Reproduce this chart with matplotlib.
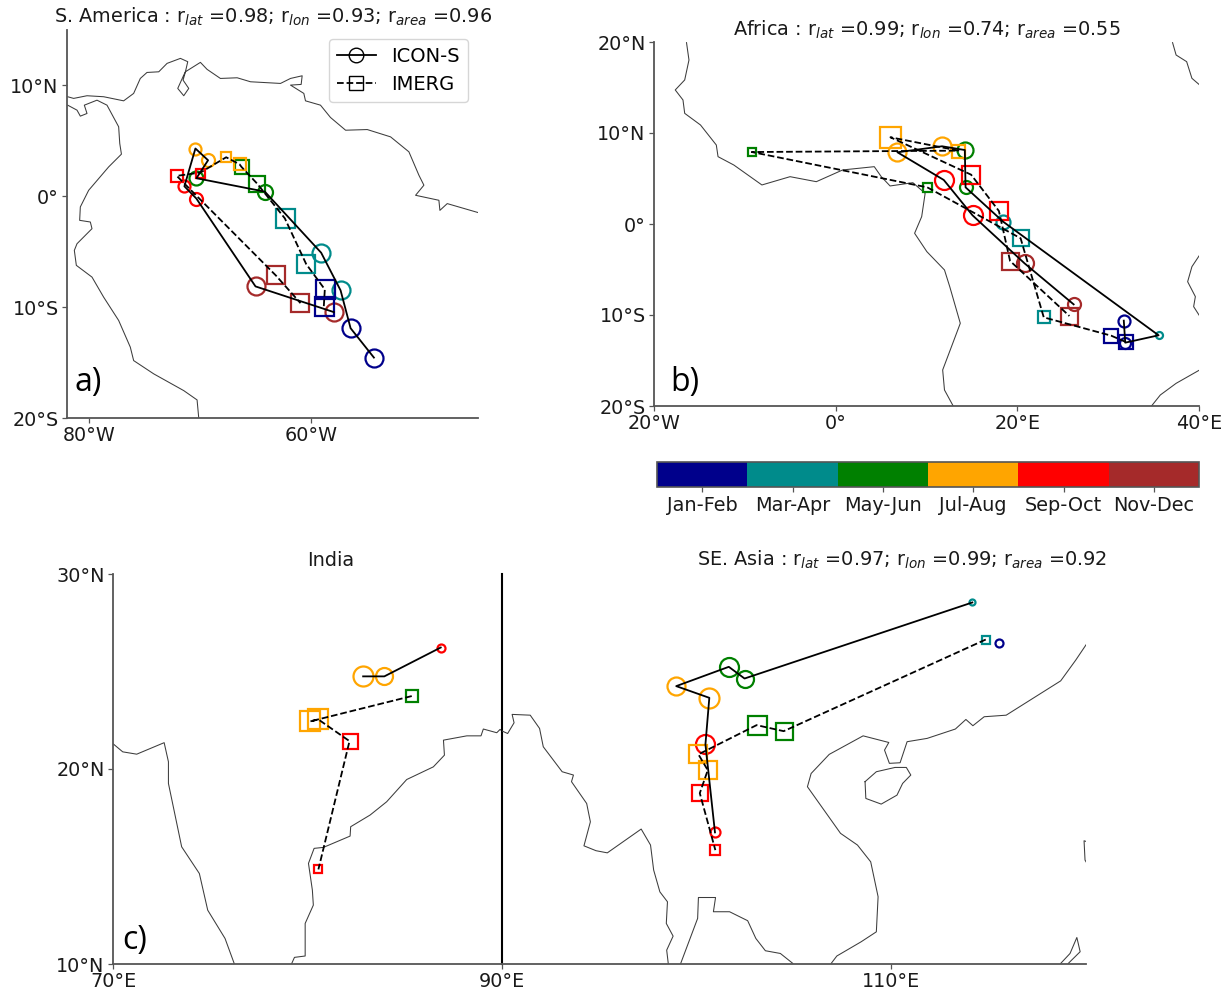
import matplotlib
matplotlib.use('Agg')
import matplotlib.pyplot as plt
from matplotlib.colors import ListedColormap, BoundaryNorm
from matplotlib.cm import ScalarMappable
from matplotlib.lines import Line2D

# Season names and colours, one colour per two-month bin
seasons = ['Jan-Feb', 'Mar-Apr', 'May-Jun', 'Jul-Aug', 'Sep-Oct', 'Nov-Dec']
season_colors = ['darkblue', 'darkcyan', 'green', 'orange', 'red', 'brown']

# S. America: centre lon/lat, season index and marker diameter for each point
sa_icon_lon = [-54.37, -56.47, -57.37, -59.12, -64.19, -70.35, -69.30, -70.44, -71.43, -70.35, -65.03, -57.97]
sa_icon_lat = [-14.55, -11.90, -8.49, -5.09, 0.42, 1.63, 3.25, 4.31, 0.90, -0.21, -8.13, -10.45]
sa_icon_season = [0, 0, 1, 1, 2, 2, 3, 3, 4, 4, 5, 5]
sa_icon_size = [18, 18, 18, 18, 15, 14, 13, 12, 12, 13, 18, 18]
sa_imerg_lon = [-58.88, -58.79, -60.47, -62.39, -64.88, -66.29, -66.47, -67.67, -69.99, -72.12, -63.20, -60.98]
sa_imerg_lat = [-9.91, -8.40, -6.11, -1.99, 1.14, 2.65, 2.89, 3.52, 2.14, 1.84, -7.14, -9.64]
sa_imerg_season = [0, 0, 1, 1, 2, 2, 3, 3, 4, 4, 5, 5]
sa_imerg_size = [19, 19, 18, 19, 16, 14, 12, 10, 9, 12, 18, 18]

# Africa
af_icon_lon = [31.72, 31.88, 35.55, 18.43, 14.30, 14.22, 11.71, 6.80, 11.90, 15.07, 20.79, 26.20]
af_icon_lat = [-10.62, -13.04, -12.23, 0.26, 4.03, 8.13, 8.54, 7.88, 4.84, 0.95, -4.32, -8.83]
af_icon_season = [0, 0, 1, 1, 2, 2, 3, 3, 4, 4, 5, 5]
af_icon_size = [12, 11, 7, 14, 13, 16, 18, 18, 19, 19, 17, 13]
af_imerg_lon = [31.95, 30.33, 22.91, 20.36, 10.08, -9.24, 13.52, 6.03, 14.91, 17.97, 19.20, 25.73]
af_imerg_lat = [-12.97, -12.27, -10.26, -1.57, 4.03, 7.91, 8.06, 9.53, 5.42, 1.43, -4.06, -10.11]
af_imerg_season = [0, 0, 1, 1, 2, 2, 3, 3, 4, 4, 5, 5]
af_imerg_size = [14, 14, 12, 16, 9, 8, 13, 21, 18, 18, 17, 17]

# India
in_icon_lon = [82.86, 83.95, 86.85]
in_icon_lat = [24.75, 24.75, 26.23]
in_icon_season = [3, 3, 4]
in_icon_size = [20, 17, 8]
in_imerg_lon = [85.36, 80.13, 80.56, 82.16, 80.56]
in_imerg_lat = [23.74, 22.44, 22.54, 21.43, 14.85]
in_imerg_season = [2, 3, 3, 4, 4]
in_imerg_size = [12, 20, 20, 15, 8]

# SE Asia, the lone Jan-Feb circle is not joined to the rest
se_lone_lon = [115.55]
se_lone_lat = [26.44]
se_lone_size = [8]
se_icon_lon = [114.16, 102.46, 101.65, 98.95, 100.65, 100.45, 100.94]
se_icon_lat = [28.54, 24.64, 25.24, 24.25, 23.65, 21.26, 16.75]
se_icon_season = [1, 2, 2, 3, 3, 4, 4]
se_icon_size = [6, 17, 19, 18, 20, 19, 10]
se_imerg_lon = [114.85, 104.47, 103.08, 100.09, 100.57, 100.16, 100.96]
se_imerg_lat = [26.64, 21.94, 22.25, 20.75, 19.94, 18.76, 15.84]
se_imerg_season = [1, 2, 2, 3, 3, 4, 4]
se_imerg_size = [8, 17, 19, 18, 18, 16, 10]

# Coastlines as (lon, lat) pieces
sa_coasts = [
    [(-81.94, 8.98), (-81.40, 8.83), (-80.2, 9.07), (-78.7, 8.98), (-76.9, 8.61), (-76.0, 9.28), (-75.4, 10.63),
     (-74.8, 11.17), (-73.74, 11.23), (-72.99, 11.99), (-71.79, 12.44), (-71.13, 12.14), (-71.34, 11.23),
     (-71.55, 10.48), (-71.04, 9.73), (-71.49, 9.07), (-72.03, 9.73), (-71.49, 10.93), (-71.34, 11.23),
     (-69.99, 12.08), (-69.39, 11.45), (-68.19, 10.63), (-66.68, 10.69), (-65.48, 10.33), (-62.78, 10.18),
     (-61.88, 10.63), (-60.83, 10.87), (-60.92, 10.09), (-61.88, 10.03), (-60.68, 9.28), (-60.53, 8.61),
     (-59.18, 8.22), (-58.28, 7.11), (-56.92, 5.96), (-54.97, 6.02), (-52.87, 5.36), (-51.22, 4.01),
     (-50.32, 1.90), (-49.87, 1.0), (-50.62, 0.09), (-48.52, -0.36), (-48.43, -1.27), (-47.77, -0.66),
     (-44.85, -1.51)],
    [(-81.94, 8.22), (-81.1, 7.77), (-80.8, 7.23), (-80.2, 7.47), (-80.44, 8.22), (-79.3, 8.67), (-78.4, 8.22),
     (-77.35, 6.27), (-77.25, 4.76), (-77.1, 3.80), (-78.25, 2.65), (-80.05, 0.54), (-80.8, -0.96), (-80.86, -2.17),
     (-79.9, -2.32), (-79.75, -2.92), (-81.1, -4.28), (-81.34, -4.88), (-81.16, -6.23), (-79.75, -7.29),
     (-78.7, -9.1), (-77.35, -11.2), (-76.3, -13.61), (-76.0, -14.82), (-74.19, -16.02), (-71.49, -17.53),
     (-70.29, -18.37), (-70.14, -20.0)],
]
af_coasts = [
    [(-16.42, 19.93), (-16.15, 18.02), (-16.62, 15.83), (-17.66, 14.73), (-16.81, 13.63), (-16.62, 12.16),
     (-14.88, 10.88), (-13.14, 8.68), (-12.95, 7.40), (-11.21, 6.48), (-8.12, 4.29), (-5.02, 5.20), (-2.13, 4.65),
     (0.77, 5.94), (4.25, 6.30), (5.02, 5.20), (5.99, 4.18), (8.50, 4.54), (9.85, 3.37), (9.47, 0.81), (8.69, -1.02),
     (10.04, -3.04), (11.98, -5.05), (12.56, -6.89), (13.72, -10.91), (12.75, -13.48), (11.78, -16.04),
     (11.98, -18.24), (12.94, -20.0)],
    [(37.09, 19.93), (37.48, 18.57), (38.64, 17.84), (39.22, 16.01), (40.07, 15.28)],
    [(40.07, -3.41), (39.22, -4.69), (38.75, -6.34), (39.60, -7.98), (39.41, -9.08), (40.07, -10.11)],
    [(40.07, -16.04), (37.48, -17.51), (35.74, -18.79), (34.77, -20.0)],
]
in_coasts = [
    [(70.02, 21.28), (70.5, 20.88), (71.22, 20.76), (72.63, 21.35), (72.85, 20.37), (72.85, 19.26), (73.53, 16.01),
     (74.44, 14.64), (74.87, 12.76), (75.76, 11.31), (76.23, 10.03)],
    [(79.19, 10.03), (79.33, 10.34), (79.88, 10.41), (79.88, 12.08), (80.3, 13.02), (80.25, 13.79), (80.05, 15.16),
     (80.34, 15.93), (80.82, 15.98), (82.19, 16.56), (82.22, 17.04), (83.22, 17.64), (84.07, 18.32), (85.1, 19.46),
     (86.47, 20.11), (87.04, 20.71), (86.99, 21.48), (88.19, 21.70), (88.92, 21.70), (89.04, 22.05), (89.73, 21.86),
     (89.9, 22.03), (90.0, 21.95)],
]
se_coasts = [
    [(90.0, 21.95), (90.29, 21.82), (90.62, 22.37), (90.52, 22.80), (91.45, 22.76), (91.93, 22.08), (92.12, 21.14),
     (93.09, 19.86), (93.67, 19.69), (93.57, 19.35), (94.35, 18.23), (94.54, 17.29), (94.21, 16.06), (94.83, 15.81),
     (95.41, 15.70), (97.15, 16.92), (97.63, 16.10), (97.79, 14.82), (98.11, 13.70), (98.5, 13.19), (98.44, 12.08),
     (98.79, 11.43), (98.46, 10.71), (98.54, 10.03)],
    [(99.18, 10.03), (100.05, 12.34), (100.09, 13.41), (100.97, 13.41), (100.86, 12.68), (101.69, 12.68),
     (102.62, 12.22), (103.04, 11.31), (103.53, 10.68), (104.3, 10.54), (104.94, 10.03)],
    [(106.91, 10.03), (107.2, 10.41), (108.45, 11.14), (109.23, 11.65), (109.32, 13.45), (108.94, 15.24),
     (108.26, 16.10), (107.39, 16.70), (105.69, 19.09), (105.88, 19.77), (106.81, 20.75), (108.55, 21.70),
     (109.87, 21.36), (109.65, 20.97), (109.9, 20.29), (110.45, 20.32), (110.81, 21.40), (111.84, 21.57),
     (113.29, 22.05), (113.83, 22.54), (114.19, 22.22), (114.77, 22.68), (115.9, 22.76), (118.7, 24.52),
     (119.47, 25.58), (120.05, 26.44)],
    [(108.65, 19.35), (109.23, 19.86), (110.19, 20.08), (110.77, 20.08), (111.0, 19.69), (110.58, 19.26),
     (110.29, 18.66), (109.48, 18.2), (108.69, 18.49), (108.65, 19.35)],
    [(118.7, 10.03), (119.18, 10.54), (119.53, 11.36), (119.7, 10.63), (119.09, 10.03)],
    [(120.05, 16.27), (119.9, 16.32), (119.95, 15.33), (120.05, 15.16)],
]

W, H = 1228, 991
SPINE = '#555555'
PX = 72 / 100  # points per pixel at dpi 100

plt.rcParams['font.family'] = 'DejaVu Sans'
fig = plt.figure(figsize=(W / 100, H / 100), dpi=100)


def make_axes(left, right, top, bottom):
    # axes rectangle given in picture pixels
    return fig.add_axes([left / W, 1 - bottom / H, (right - left) / W, (bottom - top) / H])


def style_axes(ax, xlim, ylim, xticks, xlabels, yticks, ylabels, coasts):
    ax.set_xlim(xlim)
    ax.set_ylim(ylim)
    ax.set_xticks(xticks, xlabels)
    ax.set_yticks(yticks, ylabels)
    ax.tick_params(labelsize=13.8, length=3.5, width=0.9, color=SPINE, pad=2.5, labelcolor='#1a1a1a')
    ax.spines['top'].set_visible(False)
    ax.spines['right'].set_visible(False)
    ax.spines['left'].set_color(SPINE)
    ax.spines['bottom'].set_color(SPINE)
    ax.spines['left'].set_linewidth(1.3)
    ax.spines['bottom'].set_linewidth(1.3)
    for piece in coasts:
        ax.plot([p[0] for p in piece], [p[1] for p in piece], color='#3c3c3c', lw=0.75, zorder=1)


def draw_track(ax, lon, lat, season, size, marker, ls):
    # markers first and the joining line over them
    for x, y, s, d in zip(lon, lat, season, size):
        ax.plot(x, y, marker=marker, ms=d * PX, mfc='none', mec=season_colors[s], mew=1.6, zorder=2)
    ax.plot(lon, lat, color='black', ls=ls, lw=1.3, zorder=3)


def panel_text(x, y, text):
    fig.text(x / W, 1 - y / H, text, ha='center', va='center', fontsize=13.9, color='#1a1a1a')


def panel_letter(x, y, text):
    fig.text(x / W, 1 - y / H, text, ha='center', va='center', fontsize=23, family='Open Sans', color='black')


# a) S. America
ax_a = make_axes(67, 478, 30, 418)
style_axes(ax_a, (-82, -45), (-20, 15), [-80, -60], ['80°W', '60°W'],
           [10, 0, -10, -20], ['10°N', '0°', '10°S', '20°S'], sa_coasts)
draw_track(ax_a, sa_icon_lon, sa_icon_lat, sa_icon_season, sa_icon_size, 'o', '-')
draw_track(ax_a, sa_imerg_lon, sa_imerg_lat, sa_imerg_season, sa_imerg_size, 's', '--')
handles = [Line2D([], [], color='black', lw=1.3, marker='o', ms=10.5, mfc='none', mec='black', mew=1, label='ICON-S'),
           Line2D([], [], color='black', lw=1.3, ls='--', marker='s', ms=10.5, mfc='none', mec='black', mew=1,
                  label='IMERG')]
ax_a.legend(handles=handles, loc='upper right', bbox_to_anchor=(0.975, 0.9775), fontsize=14, borderaxespad=0)
panel_text(273, 17, r'S. America : r$_{lat}$ =0.98; r$_{lon}$ =0.93; r$_{area}$ =0.96')
panel_letter(88, 383, 'a)')

# b) Africa
ax_b = make_axes(654, 1199, 42, 406)
style_axes(ax_b, (-20, 40), (-20, 20), [-20, 0, 20, 40], ['20°W', '0°', '20°E', '40°E'],
           [20, 10, 0, -10, -20], ['20°N', '10°N', '0°', '10°S', '20°S'], af_coasts)
draw_track(ax_b, af_icon_lon, af_icon_lat, af_icon_season, af_icon_size, 'o', '-')
draw_track(ax_b, af_imerg_lon, af_imerg_lat, af_imerg_season, af_imerg_size, 's', '--')
panel_text(927, 30, r'Africa : r$_{lat}$ =0.99; r$_{lon}$ =0.74; r$_{area}$ =0.55')
panel_letter(685, 382, 'b)')

# c) India and SE Asia share the bottom row
ax_c1 = make_axes(113, 502, 574, 964)
style_axes(ax_c1, (70, 90), (10, 30), [70, 90], ['70°E', '90°E'], [30, 20, 10], ['30°N', '20°N', '10°N'], in_coasts)
draw_track(ax_c1, in_icon_lon, in_icon_lat, in_icon_season, in_icon_size, 'o', '-')
draw_track(ax_c1, in_imerg_lon, in_imerg_lat, in_imerg_season, in_imerg_size, 's', '--')
ax_c1.spines['right'].set_visible(True)
ax_c1.spines['right'].set_color('black')
ax_c1.spines['right'].set_linewidth(1.5)
panel_text(331, 560, 'India')
panel_letter(135, 940, 'c)')

ax_c2 = make_axes(502, 1086, 574, 964)
style_axes(ax_c2, (90, 120), (10, 30), [110], ['110°E'], [], [], se_coasts)
ax_c2.spines['left'].set_visible(False)
ax_c2.patch.set_alpha(0)
ax_c2.plot(se_lone_lon, se_lone_lat, marker='o', ms=se_lone_size[0] * PX, mfc='none', mec=season_colors[0], mew=1.6,
           ls='none', zorder=2)
draw_track(ax_c2, se_icon_lon, se_icon_lat, se_icon_season, se_icon_size, 'o', '-')
draw_track(ax_c2, se_imerg_lon, se_imerg_lat, se_imerg_season, se_imerg_size, 's', '--')
panel_text(902, 560, r'SE. Asia : r$_{lat}$ =0.97; r$_{lon}$ =0.99; r$_{area}$ =0.92')

# Season colour bar
cax = make_axes(657, 1199, 462, 487)
norm = BoundaryNorm(range(len(seasons) + 1), len(seasons))
cbar = fig.colorbar(ScalarMappable(norm=norm, cmap=ListedColormap(season_colors)), cax=cax, orientation='horizontal',
                    ticks=[i + 0.5 for i in range(len(seasons))])
cbar.ax.set_xticklabels(seasons)
cbar.ax.tick_params(labelsize=13.9, length=3.5, width=0.9, color=SPINE, pad=3, labelcolor='#1a1a1a')
cbar.ax.minorticks_off()
cbar.outline.set_edgecolor(SPINE)
cbar.outline.set_linewidth(1.2)

fig.savefig('out.png', dpi=100)
